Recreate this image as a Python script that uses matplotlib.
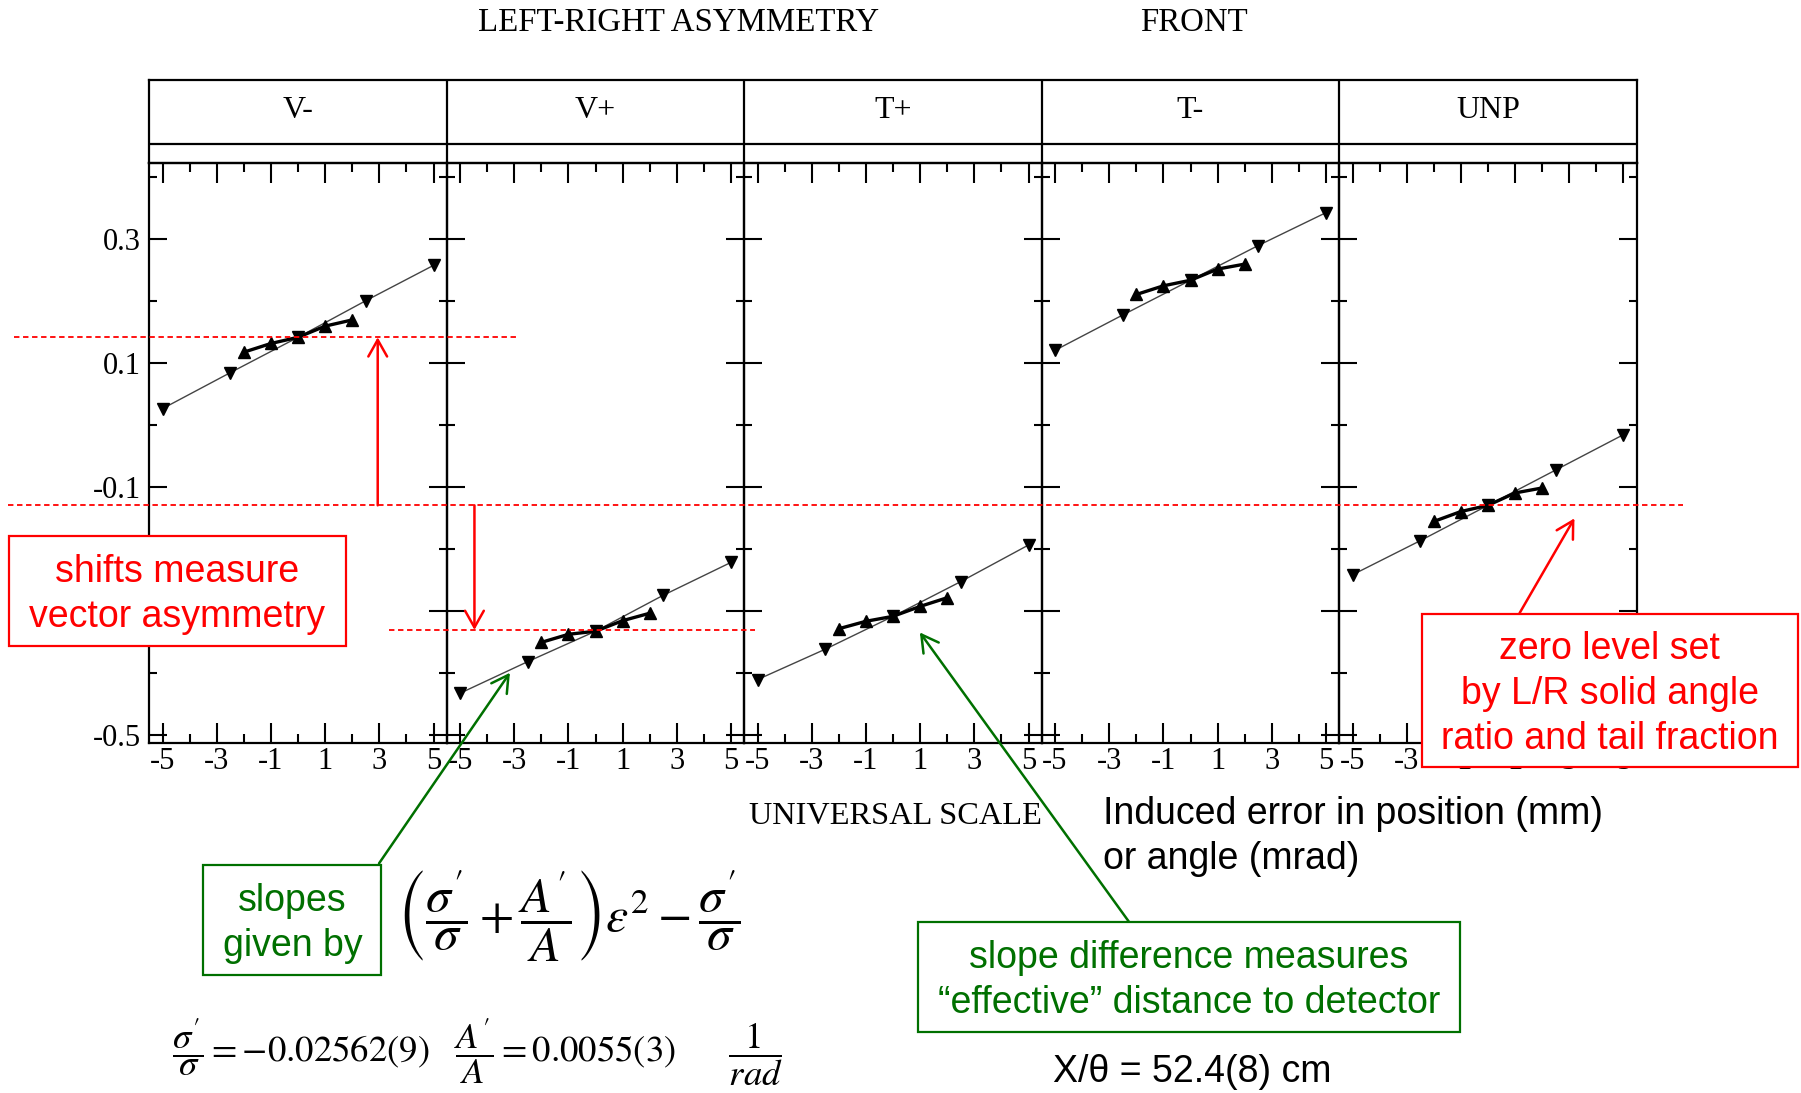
import matplotlib
matplotlib.use("Agg")
import matplotlib.pyplot as plt
from matplotlib import transforms
from matplotlib.patches import Rectangle
from matplotlib.lines import Line2D

plt.rcParams['font.family'] = 'Liberation Serif'
plt.rcParams['mathtext.fontset'] = 'stix'
plt.rcParams['axes.unicode_minus'] = False

panels = ['V-', 'V+', 'T+', 'T-', 'UNP']

# wide scan (down triangles, thin line) and narrow scan (up triangles, thick line)
x_wide = [-5, -2.5, 0, 2.5, 5]
x_narrow = [-2, -1, 0, 1, 2]

wide_vminus = [0.026, 0.084, 0.141, 0.200, 0.257]
narrow_vminus = [0.117, 0.131, 0.141, 0.159, 0.169]
wide_vplus = [-0.433, -0.382, -0.333, -0.275, -0.222]
narrow_vplus = [-0.351, -0.338, -0.333, -0.316, -0.304]
wide_tplus = [-0.411, -0.362, -0.309, -0.253, -0.194]
narrow_tplus = [-0.329, -0.317, -0.309, -0.293, -0.279]
wide_tminus = [0.120, 0.177, 0.233, 0.289, 0.342]
narrow_tminus = [0.210, 0.224, 0.233, 0.251, 0.259]
wide_unp = [-0.242, -0.187, -0.130, -0.073, -0.016]
narrow_unp = [-0.156, -0.140, -0.130, -0.110, -0.102]

wide_sets = [wide_vminus, wide_vplus, wide_tplus, wide_tminus, wide_unp]
narrow_sets = [narrow_vminus, narrow_vplus, narrow_tplus, narrow_tminus, narrow_unp]

# reference levels marked with red dashes
level_vminus = 0.141
level_zero = -0.13
level_vplus = -0.331

x_ticks = [-5, -3, -1, 1, 3, 5]
x_minor = [-4, -2, 0, 2, 4]
y_ticks = [-0.5, -0.3, -0.1, 0.1, 0.3]
y_minor = [-0.4, -0.2, 0.0, 0.2, 0.4]

RED = '#ff0000'
GREEN = '#007000'
SANS = 'Liberation Sans'
SANS_SIZE = 27
LSP = 1.32

W, H = 1568.0, 952.0


def fx(px):
    return px / W


def fy(py):
    return 1 - py / H


fig = plt.figure(figsize=(18.01, 10.93), dpi=100)

# panel grid
left, right, top, bottom = 130, 1425, 142, 647
pw = (right - left) / len(panels)
axs = []
for i, name in enumerate(panels):
    ax = fig.add_axes([fx(left + i * pw), fy(bottom), pw / W, (bottom - top) / H])
    ax.set_facecolor('none')
    ax.plot(x_wide, wide_sets[i], color='#444444', lw=1.0, marker='v',
            ms=9, mfc='black', mec='black')
    ax.plot(x_narrow, narrow_sets[i], color='black', lw=2.4, marker='^',
            ms=9, mfc='black', mec='black')
    ax.set_xlim(-5.49, 5.49)
    ax.set_ylim(-0.513, 0.422)
    ax.set_xticks(x_ticks)
    ax.set_xticks(x_minor, minor=True)
    ax.set_xticklabels([str(t) for t in x_ticks], fontsize=22)
    ax.set_yticks(y_ticks)
    ax.set_yticks(y_minor, minor=True)
    if i == 0:
        ax.set_yticklabels(['%.1f' % t for t in y_ticks], fontsize=22)
    else:
        ax.set_yticklabels([])
    ax.tick_params(which='both', direction='in', top=True, right=True, width=1.5)
    ax.tick_params(axis='x', which='major', length=14.5, pad=3)
    ax.tick_params(axis='x', which='minor', length=6.5)
    ax.tick_params(axis='y', which='major', length=13, pad=6)
    ax.tick_params(axis='y', which='minor', length=6)
    for s in ax.spines.values():
        s.set_linewidth(1.6)
    axs.append(ax)

# header boxes with the panel names
hdr = fig.add_axes([fx(left), fy(top), (right - left) / W, (top - 70) / H])
hdr.set_xlim(0, len(panels))
hdr.set_ylim(0, 1)
hdr.set_xticks([])
hdr.set_yticks([])
hdr.set_facecolor('none')
for s in hdr.spines.values():
    s.set_linewidth(1.6)
hdr.axhline((top - 125) / (top - 70), color='black', lw=1.6)
for i, name in enumerate(panels):
    if i > 0:
        hdr.axvline(i, color='black', lw=1.6)
    hdr.text(i + 0.5, (top - 96) / (top - 70), name, ha='center', va='center', fontsize=23)

fig.text(fx(591), fy(20), 'LEFT-RIGHT ASYMMETRY', ha='center', va='center', fontsize=23.7)
fig.text(fx(1039), fy(20), 'FRONT', ha='center', va='center', fontsize=23.7)
fig.text(fx(780), fy(711), 'UNIVERSAL SCALE', ha='center', va='center', fontsize=23.3)

# red dashed reference levels spanning panels
trans = transforms.blended_transform_factory(fig.transFigure, axs[0].transData)
for x0, x1, lev in [(12.6, 449.8, level_vminus), (7, 1465, level_zero),
                    (338.5, 657.4, level_vplus)]:
    fig.add_artist(Line2D([fx(x0), fx(x1)], [lev, lev], transform=trans,
                          color=RED, lw=1.3, ls=(0, (3, 2)), zorder=4))

arrow_red = dict(arrowstyle='->,head_length=0.8,head_width=0.45', color=RED,
                 lw=1.8, shrinkA=0, shrinkB=0, mutation_scale=15)
arrow_green = dict(arrowstyle='->,head_length=0.8,head_width=0.45', color=GREEN,
                   lw=1.8, shrinkA=0, shrinkB=0, mutation_scale=15)

axs[0].annotate('', xy=(2.94, level_vminus), xytext=(2.94, level_zero),
                arrowprops=arrow_red, annotation_clip=False)
axs[1].annotate('', xy=(-4.47, level_vplus), xytext=(-4.47, level_zero),
                arrowprops=arrow_red, annotation_clip=False)
axs[4].annotate('', xy=(3.19, -0.151), xytext=(fx(1323), fy(534)),
                textcoords='figure fraction', arrowprops=arrow_red, annotation_clip=False)
axs[1].annotate('', xy=(-3.16, -0.40), xytext=(fx(330), fy(752)),
                textcoords='figure fraction', arrowprops=arrow_green, annotation_clip=False)
axs[2].annotate('', xy=(0.99, -0.335), xytext=(fx(983), fy(803)),
                textcoords='figure fraction', arrowprops=arrow_green, annotation_clip=False)


def note(x0, x1, y0, y1, text, color):
    fig.add_artist(Rectangle((fx(x0), fy(y1)), (x1 - x0) / W, (y1 - y0) / H,
                             transform=fig.transFigure, facecolor='white',
                             edgecolor=color, lw=1.6, zorder=5))
    fig.text(fx((x0 + x1) / 2), fy((y0 + y1) / 2 + 3), text, ha='center', va='center',
             multialignment='center', color=color, fontsize=SANS_SIZE, family=SANS,
             linespacing=LSP, zorder=6)


note(8, 301, 467, 563, 'shifts measure\nvector asymmetry', RED)
note(177, 332, 753, 849, 'slopes\ngiven by', GREEN)
note(1238, 1565, 535, 668, 'zero level set\nby L/R solid angle\nratio and tail fraction', RED)
note(799, 1271, 803, 899, 'slope difference measures\n\u201ceffective\u201d distance to detector', GREEN)

fig.text(fx(960), fy(729), 'Induced error in position (mm)\nor angle (mrad)',
         ha='left', va='center', fontsize=SANS_SIZE, family=SANS, linespacing=LSP)
fig.text(fx(1038), fy(934), 'X/\u03b8 = 52.4(8) cm', ha='center', va='center',
         fontsize=SANS_SIZE, family=SANS)

fig.text(fx(495), fy(798),
         r"$\left(\dfrac{\sigma'}{\sigma}+\dfrac{A'}{A}\right)\varepsilon^{2}-\dfrac{\sigma'}{\sigma}$",
         ha='center', va='center', fontsize=36)
fig.text(fx(150), fy(916),
         r"$\dfrac{\sigma'}{\sigma}=-0.02562(9)\quad\dfrac{A'}{A}=0.0055(3)\qquad\dfrac{1}{rad}$",
         ha='left', va='center', fontsize=26.5)

fig.savefig('out.png', dpi=100)
